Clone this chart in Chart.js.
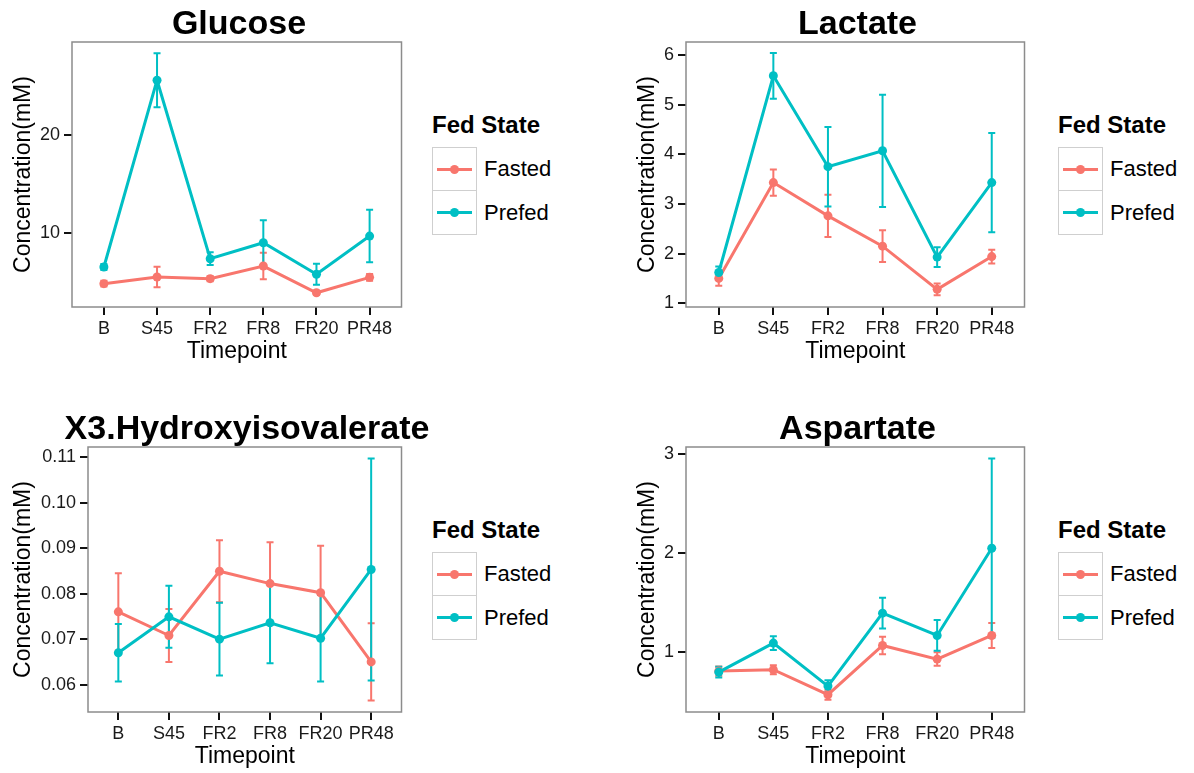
<!DOCTYPE html>
<html>
<head>
<meta charset="utf-8">
<script src="https://cdn.jsdelivr.net/npm/chart.js@4.4.1/dist/chart.umd.min.js"></script>
<style>
  body { margin:0; background:#fff; font-family:"Liberation Sans", Arial, sans-serif; }
  #page { position:relative; width:1194px; height:773px; overflow:hidden; }
  .panel { position:absolute; }
  .ptitle { position:absolute; font-weight:bold; font-size:34px; text-align:center; white-space:nowrap; color:#000; line-height:40px; }
  .legend { position:absolute; color:#000; }
  .legend .lt { font-weight:bold; font-size:24px; line-height:28px; margin-bottom:8px; }
  .legend .key { display:flex; align-items:center; height:44px; font-size:22px; }
  .legend .sw { position:relative; width:43px; height:42px; border:1.5px solid #cfcfcf; margin-right:7px; box-sizing:content-box; }
  .legend .key + .key .sw { border-top:none; height:43px; }
  .legend .sw .ln { position:absolute; left:4px; right:4px; top:50%; height:3px; margin-top:-1.5px; }
  .legend .sw .dt { position:absolute; left:50%; top:50%; width:9px; height:9px; margin:-4.5px 0 0 -4.5px; border-radius:50%; }
</style>
</head>
<body>
<div id="page"></div>
<script>
// timepoints on the x axis
const timepoints = ['B', 'S45', 'FR2', 'FR8', 'FR20', 'PR48'];
const groups = ['Fasted', 'Prefed'];
const colFasted = '#F8766D';
const colPrefed = '#00BFC4';

// means and standard errors (mM)
const glucoseFasted   = [4.83, 5.51, 5.34, 6.63, 3.90, 5.48];
const glucoseFastedSE = [0.30, 1.05, 0.25, 1.35, 0.20, 0.35];
const glucosePrefed   = [6.53, 25.6, 7.38, 9.01, 5.79, 9.69];
const glucosePrefedSE = [0.30, 2.75, 0.65, 2.30, 1.07, 2.68];
const glucoseTicks = [10, 20];

const lactateFasted   = [1.50, 3.43, 2.76, 2.15, 1.28, 1.94];
const lactateFastedSE = [0.145, 0.265, 0.425, 0.32, 0.12, 0.14];
const lactatePrefed   = [1.62, 5.58, 3.75, 4.07, 1.93, 3.43];
const lactatePrefedSE = [0.12, 0.46, 0.80, 1.13, 0.20, 1.00];
const lactateTicks = [1, 2, 3, 4, 5, 6];

const hivFasted   = [0.0760, 0.0708, 0.0849, 0.0822, 0.0802, 0.0650];
const hivFastedSE = [0.0085, 0.0058, 0.0068, 0.0091, 0.0103, 0.0085];
const hivPrefed   = [0.0670, 0.0749, 0.0700, 0.0736, 0.0702, 0.0853];
const hivPrefedSE = [0.0063, 0.0068, 0.0080, 0.0089, 0.0095, 0.0244];
const hivTicks = [0.06, 0.07, 0.08, 0.09, 0.10, 0.11];

const aspFasted   = [0.812, 0.826, 0.574, 1.070, 0.933, 1.171];
const aspFastedSE = [0.047, 0.045, 0.050, 0.087, 0.068, 0.125];
const aspPrefed   = [0.802, 1.094, 0.661, 1.396, 1.171, 2.050];
const aspPrefedSE = [0.055, 0.070, 0.058, 0.155, 0.155, 0.905];
const aspTicks = [1, 2, 3];

const FONT = '"Liberation Sans", Arial, sans-serif';

// mean +/- se whiskers, drawn under the lines
const errorBars = {
  id: 'errorBars',
  beforeDatasetsDraw(chart) {
    const {ctx, scales: {x, y}} = chart;
    ctx.save();
    ctx.lineWidth = 2;
    chart.data.datasets.forEach(ds => {
      ctx.strokeStyle = ds.borderColor;
      ds.data.forEach((p, i) => {
        const px = x.getPixelForValue(p.x);
        const hi = y.getPixelForValue(p.y + ds.se[i]);
        const lo = y.getPixelForValue(p.y - ds.se[i]);
        ctx.beginPath();
        ctx.moveTo(px, hi); ctx.lineTo(px, lo);
        ctx.moveTo(px - 3.5, hi); ctx.lineTo(px + 3.5, hi);
        ctx.moveTo(px - 3.5, lo); ctx.lineTo(px + 3.5, lo);
        ctx.stroke();
      });
    });
    ctx.restore();
  }
};

// grey panel border
const frame = {
  id: 'frame',
  afterDatasetsDraw(chart) {
    const {ctx, chartArea: a} = chart;
    ctx.save();
    ctx.strokeStyle = '#8c8c8c';
    ctx.lineWidth = 1.5;
    ctx.strokeRect(a.left, a.top, a.right - a.left, a.bottom - a.top);
    ctx.restore();
  }
};

function series(label, vals, se, color, order) {
  return {
    label: label,
    data: vals.map((v, i) => ({x: i, y: v})),
    se: se,
    borderColor: color,
    backgroundColor: color,
    borderWidth: 3,
    pointRadius: 4.5,
    pointBorderWidth: 0,
    tension: 0,
    order: order
  };
}

function makePanel(p) {
  const page = document.getElementById('page');
  const box = document.createElement('div');
  box.className = 'panel';
  box.style.left = p.left + 'px';
  box.style.top = p.top + 'px';
  box.style.width = p.width + 'px';
  box.style.height = '366px';
  const cv = document.createElement('canvas');
  box.appendChild(cv);
  page.appendChild(box);

  const t = document.createElement('div');
  t.className = 'ptitle';
  t.textContent = p.title;
  t.style.left = (p.left + p.plotLeft - 200) + 'px';
  t.style.width = (p.width - p.plotLeft + 400) + 'px';
  t.style.top = (p.top + 2) + 'px';
  page.appendChild(t);

  const lg = document.createElement('div');
  lg.className = 'legend';
  lg.style.left = p.legendLeft + 'px';
  lg.style.top = (p.top + 111) + 'px';
  let html = '<div class="lt">Fed State</div>';
  [[groups[0], colFasted], [groups[1], colPrefed]].forEach(([g, c]) => {
    html += '<div class="key"><span class="sw"><i class="ln" style="background:' + c +
      '"></i><i class="dt" style="background:' + c + '"></i></span>' + g + '</div>';
  });
  lg.innerHTML = html;
  page.appendChild(lg);

  new Chart(cv, {
    type: 'line',
    data: {
      datasets: [
        series('Fasted', p.fasted, p.fastedSE, colFasted, 1),
        series('Prefed', p.prefed, p.prefedSE, colPrefed, 0)
      ]
    },
    options: {
      responsive: true,
      maintainAspectRatio: false,
      animation: false,
      layout: {padding: {top: 42, right: 1, left: 0, bottom: 0}},
      plugins: {legend: {display: false}, tooltip: {enabled: false}},
      scales: {
        x: {
          type: 'linear',
          min: -0.6, max: 5.6,
          afterBuildTicks: s => { s.ticks = timepoints.map((_, i) => ({value: i})); },
          afterFit: s => { s.height = 59; },
          ticks: {
            callback: v => timepoints[v],
            color: '#1a1a1a', font: {family: FONT, size: 18}, padding: 3, maxRotation: 0, autoSkip: false
          },
          grid: {drawOnChartArea: false, drawTicks: true, tickLength: 8, color: '#111', lineWidth: 2},
          border: {display: false},
          title: {display: true, text: 'Timepoint', color: '#000', font: {family: FONT, size: 23}, padding: {top: 0, bottom: 1}}
        },
        y: {
          min: p.yMin, max: p.yMax,
          afterBuildTicks: s => { s.ticks = p.yTicks.map(v => ({value: v})); },
          afterFit: s => { s.width = p.plotLeft; },
          ticks: {
            callback: v => p.fmt(v),
            color: '#1a1a1a', font: {family: FONT, size: 18}, padding: 4
          },
          grid: {drawOnChartArea: false, drawTicks: true, tickLength: 8, color: '#111', lineWidth: 2},
          border: {display: false},
          title: {display: true, text: 'Concentration(mM)', color: '#000', font: {family: FONT, size: 23}, padding: {top: p.yTitlePad, bottom: 0}}
        }
      }
    },
    plugins: [errorBars, frame]
  });
}

const intFmt = v => String(v);

makePanel({
  title: 'Glucose', left: 0, top: 0, width: 406, plotLeft: 72, yTitlePad: 10, legendLeft: 432,
  yMin: 2.45, yMax: 29.5, yTicks: glucoseTicks, fmt: intFmt,
  fasted: glucoseFasted, fastedSE: glucoseFastedSE, prefed: glucosePrefed, prefedSE: glucosePrefedSE
});
makePanel({
  title: 'Lactate', left: 600, top: 0, width: 429, plotLeft: 86, yTitlePad: 34, legendLeft: 1058,
  yMin: 0.925, yMax: 6.26, yTicks: lactateTicks, fmt: intFmt,
  fasted: lactateFasted, fastedSE: lactateFastedSE, prefed: lactatePrefed, prefedSE: lactatePrefedSE
});
makePanel({
  title: 'X3.Hydroxyisovalerate', left: 0, top: 405, width: 406, plotLeft: 88, yTitlePad: 10, legendLeft: 432,
  yMin: 0.054, yMax: 0.1122, yTicks: hivTicks, fmt: v => v.toFixed(2),
  fasted: hivFasted, fastedSE: hivFastedSE, prefed: hivPrefed, prefedSE: hivPrefedSE
});
makePanel({
  title: 'Aspartate', left: 600, top: 405, width: 429, plotLeft: 86, yTitlePad: 34, legendLeft: 1058,
  yMin: 0.40, yMax: 3.07, yTicks: aspTicks, fmt: intFmt,
  fasted: aspFasted, fastedSE: aspFastedSE, prefed: aspPrefed, prefedSE: aspPrefedSE
});
</script>
</body>
</html>
